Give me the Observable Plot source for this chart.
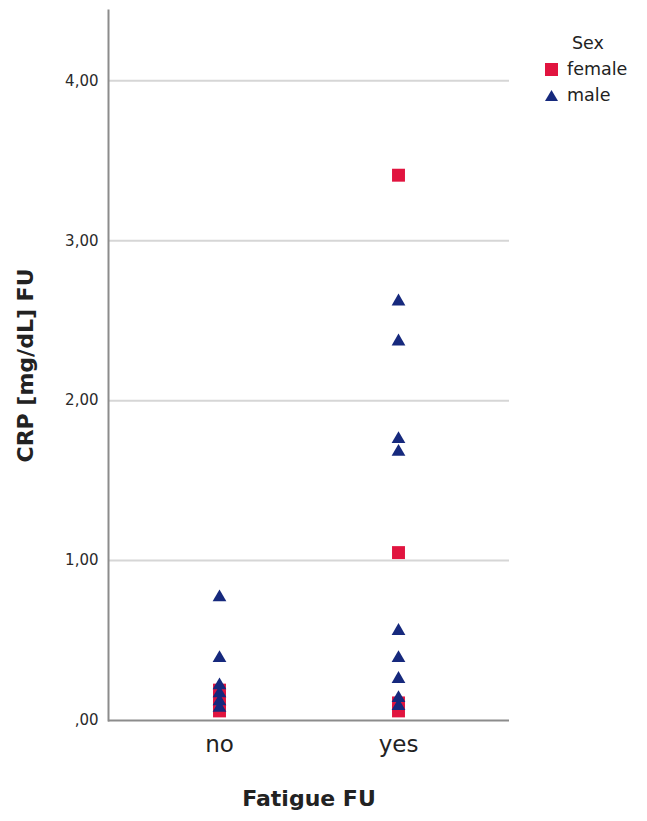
<!DOCTYPE html>
<html>
<head>
<meta charset="utf-8">
<script src="https://cdn.jsdelivr.net/npm/d3@7"></script>
<script src="https://cdn.jsdelivr.net/npm/@observablehq/plot@0.6"></script>
<style>
  html, body { margin: 0; padding: 0; background: #fff; }
  #wrap { position: relative; width: 647px; height: 821px; font-family: "DejaVu Sans", sans-serif; }
  #legend { position: absolute; left: 544px; top: 30px; color: #222; font-size: 17.5px; }
  #legend .title { margin-left: 28px; line-height: 26px; }
  #legend .row { display: flex; align-items: center; height: 26px; }
  #legend svg { margin-right: 8px; }
</style>
</head>
<body>
<div id="wrap">
  <div id="plot"></div>
  <div id="legend"></div>
</div>
<script>
// ---- data ----
const categories = ["no", "yes"];
const sexes = ["female", "male"];
const noFemale = [0.19, 0.14, 0.09, 0.06];
const noMale = [0.77, 0.39, 0.22, 0.17, 0.12, 0.08];
const yesFemale = [3.41, 1.05, 0.11, 0.06];
const yesMale = [2.62, 2.37, 1.76, 1.68, 0.56, 0.39, 0.26, 0.14, 0.09];
const yTicks = [0, 1, 2, 3, 4];
const colors = { female: "#e1143f", male: "#16297d" };
const symbols = { female: "square", male: "triangle" };

const rows = [];
noFemale.forEach(v => rows.push({ fatigue: "no", sex: "female", crp: v }));
yesFemale.forEach(v => rows.push({ fatigue: "yes", sex: "female", crp: v }));
noMale.forEach(v => rows.push({ fatigue: "no", sex: "male", crp: v }));
yesMale.forEach(v => rows.push({ fatigue: "yes", sex: "male", crp: v }));

const fmt = d => d === 0 ? ",00" : d3.format(".2f")(d).replace(".", ",");

const chart = Plot.plot({
  width: 647,
  height: 821,
  marginLeft: 108,
  marginRight: 138,
  marginTop: 10,
  marginBottom: 101,
  style: { fontFamily: "DejaVu Sans, sans-serif", background: "#fff", color: "#333" },
  x: { type: "point", domain: categories, padding: 0.614, axis: null },
  y: { domain: [0, 4.44], axis: null },
  marks: [
    Plot.ruleY(yTicks.filter(d => d > 0), { stroke: "#d6d6d6", strokeWidth: 2 }),
    Plot.frame({ anchor: "left", stroke: "#8c8c8c", strokeWidth: 2 }),
    Plot.ruleY([0], { stroke: "#8c8c8c", strokeWidth: 2 }),
    Plot.axisY({ ticks: yTicks, tickFormat: fmt, tickSize: 0, tickPadding: 10, fontSize: 15, label: null, fill: "#2a2a2a" }),
    Plot.axisX({ tickSize: 0, tickPadding: 15, fontSize: 23, label: null, fill: "#222" }),
    Plot.text(["CRP [mg/dL] FU"], { frameAnchor: "left", rotate: -90, dx: -83, textAnchor: "middle", fontSize: 22, fontWeight: "bold", fill: "#222", lineAnchor: "middle" }),
    Plot.text(["Fatigue FU"], { frameAnchor: "bottom", dy: 78, textAnchor: "middle", fontSize: 22, fontWeight: "bold", fill: "#222", lineAnchor: "middle" }),
    Plot.dot(rows.filter(d => d.sex === "female"), { x: "fatigue", y: "crp", symbol: "square", r: 7.3, fill: colors.female, stroke: "none" }),
    Plot.dot(rows.filter(d => d.sex === "male"), { x: "fatigue", y: "crp", symbol: "triangle", r: 5.1, fill: colors.male, stroke: "none" })
  ]
});
document.getElementById("plot").appendChild(chart);

// legend
const lg = document.getElementById("legend");
lg.innerHTML = `<div class="title">Sex</div>` + sexes.map(s => {
  const shape = symbols[s] === "square"
    ? `<rect x="1" y="1" width="13" height="13" fill="${colors[s]}"/>`
    : `<path d="M7.5,2 L14,13 L1,13 Z" fill="${colors[s]}"/>`;
  return `<div class="row"><svg width="15" height="15">${shape}</svg><span>${s}</span></div>`;
}).join("");
</script>
</body>
</html>
